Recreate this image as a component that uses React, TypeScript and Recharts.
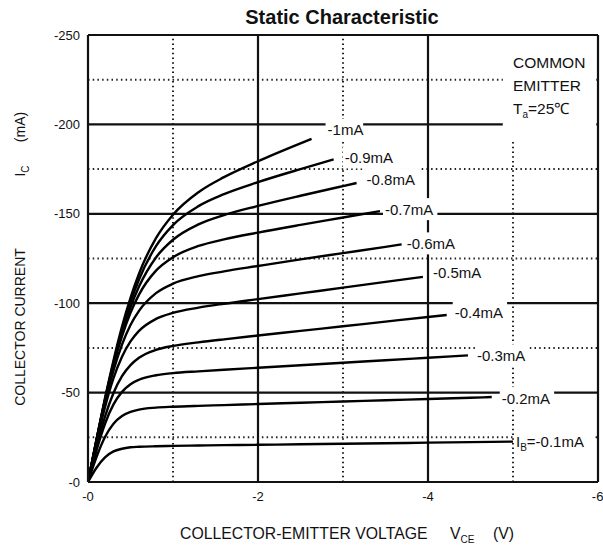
import { LineChart, Line, XAxis, YAxis, ReferenceLine, ReferenceArea, ReferenceDot } from 'recharts';

// collector-emitter voltage steps (V) shared by every curve
const vceGrid = [0, -0.1, -0.2, -0.3, -0.4, -0.5, -0.6, -0.8, -1.0, -1.3, -1.6, -2.0, -2.5, -3.0, -3.5, -4.0, -4.5];

// base current of each curve
const baseCurrents = ['-0.1mA', '-0.2mA', '-0.3mA', '-0.4mA', '-0.5mA', '-0.6mA', '-0.7mA', '-0.8mA', '-0.9mA', '-1mA'];

// collector current (mA) at the vceGrid steps
const ic01 = [0, -8.0, -13.8, -17.1, -18.6, -19.4, -19.7, -20.0, -20.2, -20.4, -20.6, -20.8, -21.1, -21.4, -21.7, -22.0, -22.3];
const ic02 = [0, -14.0, -25.2, -32.6, -36.9, -39.2, -40.5, -41.6, -42.1, -42.6, -43.0, -43.6, -44.3, -45.0, -45.7, -46.4, -47.1];
const ic03 = [0, -17.7, -32.6, -43.4, -50.4, -54.7, -57.2, -59.7, -60.9, -61.9, -62.8, -63.9, -65.3, -66.7, -68.1, -69.5];
const ic04 = [0, -19.5, -36.6, -49.8, -59.2, -65.4, -69.5, -73.9, -76.1, -78.1, -79.8, -81.9, -84.5, -87.1, -89.7, -92.3];
const ic05 = [0, -22.1, -41.9, -58.1, -70.1, -78.6, -84.5, -91.2, -94.6, -97.5, -99.7, -102.3, -105.5, -108.7, -111.9];
const ic06 = [0, -23.0, -44.3, -62.4, -76.8, -87.8, -95.7, -105.6, -110.9, -115.1, -117.8, -120.8, -124.5, -128.0, -131.5];
const ic07 = [0, -23.3, -45.5, -65.3, -81.6, -94.7, -104.8, -118.2, -125.7, -132.0, -135.7, -139.5, -143.8, -147.9];
const ic08 = [0, -23.5, -45.9, -65.8, -83.2, -97.7, -109.3, -125.6, -135.5, -144.1, -149.3, -154.4, -160.1, -165.5];
const ic09 = [0, -23.6, -46.3, -66.8, -85.1, -100.6, -113.3, -131.9, -143.7, -154.3, -161.0, -167.7, -175.0];
const ic10 = [0, -23.8, -46.8, -68.0, -86.9, -103.0, -116.5, -136.4, -149.5, -162.1, -170.5, -179.4, -189.4];

// where each curve stops
const endVce = [-5.0, -4.75, -4.47, -4.22, -3.94, -3.69, -3.435, -3.16, -2.89, -2.63];
const endIc = [-22.6, -47.5, -70.8, -93.4, -114.7, -132.9, -151.5, -167.2, -180.4, -191.9];

const icCurves = [ic01, ic02, ic03, ic04, ic05, ic06, ic07, ic08, ic09, ic10];

const vceTicks = [0, -2, -4, -6];
const icTicks = [0, -50, -100, -150, -200, -250];
const majorV = [-2, -4];
const minorV = [-1, -3, -5];
const majorI = [-50, -100, -150, -200];
const minorI = [-25, -75, -125, -175, -225];

// label offsets from the end of each curve (px)
const tagOffset = [
  [3, 0], [10, 1], [9, 0], [8, -3], [10, -4], [5, -1], [5, -2], [10, -4], [11, -2], [16, -9],
];

const FONT = '"Liberation Sans", Arial, sans-serif';
const INK = '#111';

const series = icCurves.map((ics, j) =>
  ics.map((ic, i) => ({ vce: vceGrid[i], ic })).concat([{ vce: endVce[j], ic: endIc[j] }])
);

const fmt = (v: number) => (v === 0 ? '-0' : String(v));

function CurveTag({ cx, cy, j }: { cx: number; cy: number; j: number }) {
  const [dx, dy] = tagOffset[j];
  const x = cx + dx;
  const text = baseCurrents[j];
  if (j === 0) {
    return (
      <g>
        <rect x={x - 2} y={cy + dy - 11} width={80} height={22} fill="#fff" />
        <text x={x} y={cy + dy + 5.5} fontSize={15} fontFamily={FONT} fill={INK}>
          I<tspan fontSize={10} dy={4}>B</tspan>
          <tspan dy={-4}>={text}</tspan>
        </text>
      </g>
    );
  }
  const w = text.length * 8.4 + 4;
  return (
    <g>
      <rect x={x - 2} y={cy + dy - 11} width={w} height={22} fill="#fff" />
      <text x={x} y={cy + dy + 5.5} fontSize={15} fontFamily={FONT} fill={INK}>
        {text}
      </text>
    </g>
  );
}

export default function App() {
  return (
    <div style={{ position: 'absolute', left: 0, top: 0, width: 603, height: 550, background: '#fff' }}>
      <LineChart width={603} height={550} margin={{ top: 35, right: 5, bottom: 38, left: 28 }}>
        <XAxis
          dataKey="vce"
          type="number"
          domain={[-6, 0]}
          reversed
          ticks={vceTicks}
          tickFormatter={fmt}
          axisLine={false}
          tickLine={false}
          tickMargin={4}
          height={30}
          allowDataOverflow
          tick={{ fill: INK, fontSize: 13, fontFamily: FONT }}
        />
        <YAxis
          type="number"
          domain={[-250, 0]}
          reversed
          ticks={icTicks}
          tickFormatter={fmt}
          axisLine={false}
          tickLine={false}
          width={60}
          allowDataOverflow
          tick={{ fill: INK, fontSize: 13, fontFamily: FONT }}
        />
        {minorV.map((v) => (
          <ReferenceLine key={'mv' + v} x={v} stroke="#222" strokeWidth={2} strokeDasharray="1.5 3.2" zIndex={-50} />
        ))}
        {minorI.map((v) => (
          <ReferenceLine key={'mi' + v} y={v} stroke="#222" strokeWidth={2} strokeDasharray="1.5 3.2" zIndex={-50} />
        ))}
        {majorV.map((v) => (
          <ReferenceLine key={'MV' + v} x={v} stroke="#111" strokeWidth={2.2} zIndex={-50} />
        ))}
        {majorI.map((v) => (
          <ReferenceLine key={'MI' + v} y={v} stroke="#111" strokeWidth={2.2} zIndex={-50} />
        ))}
        <ReferenceArea x1={-4.88} x2={-5.98} y1={-191} y2={-249} fill="#fff" fillOpacity={1} stroke="none" zIndex={-40} />
        {series.map((d, j) => (
          <Line
            key={baseCurrents[j]}
            data={d}
            dataKey="ic"
            type="monotone"
            stroke="#000"
            strokeWidth={2.4}
            dot={false}
            activeDot={false}
            isAnimationActive={false}
          />
        ))}
        {series.map((_, j) => (
          <ReferenceDot
            key={'tag' + j}
            x={endVce[j]}
            y={endIc[j]}
            r={0}
            zIndex={450}
            shape={(p: any) => <CurveTag cx={p.cx} cy={p.cy} j={j} />}
          />
        ))}
        <ReferenceLine x={0} stroke="#111" strokeWidth={2.2} zIndex={500} />
        <ReferenceLine x={-6} stroke="#111" strokeWidth={2.2} zIndex={500} />
        <ReferenceLine y={0} stroke="#111" strokeWidth={2.2} zIndex={500} />
        <ReferenceLine y={-250} stroke="#111" strokeWidth={2.2} zIndex={500} />
      </LineChart>
      <svg
        width={603}
        height={550}
        style={{ position: 'absolute', left: 0, top: 0, pointerEvents: 'none' }}
        fontFamily={FONT}
        fill={INK}
      >
        <text x={342} y={24} textAnchor="middle" fontSize={20} fontWeight="bold">
          Static Characteristic
        </text>
        <text x={513} y={68} fontSize={15.5}>COMMON</text>
        <text x={513} y={91} fontSize={15.5}>EMITTER</text>
        <text x={513} y={114} fontSize={15.5}>
          T<tspan fontSize={10} dy={4}>a</tspan>
          <tspan dy={-4}>=25℃</tspan>
        </text>
        <text x={180} y={539} fontSize={15.8}>COLLECTOR-EMITTER VOLTAGE</text>
        <text x={450} y={539} fontSize={15.8}>
          V<tspan fontSize={10} dy={4}>CE</tspan>
        </text>
        <text x={493} y={539} fontSize={15.8}>(V)</text>
        <text x={25} y={327} fontSize={14} textAnchor="middle" transform="rotate(-90 25 327)">
          COLLECTOR CURRENT
        </text>
        <text x={25} y={171} fontSize={14} textAnchor="middle" transform="rotate(-90 25 171)">
          I<tspan fontSize={10} dy={4}>C</tspan>
        </text>
        <text x={25} y={127} fontSize={14} textAnchor="middle" transform="rotate(-90 25 127)">
          (mA)
        </text>
      </svg>
    </div>
  );
}
